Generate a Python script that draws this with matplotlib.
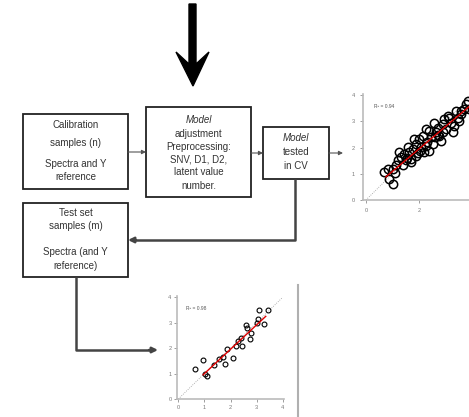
import matplotlib
matplotlib.use("Agg")
import matplotlib.pyplot as plt
from matplotlib.patches import Rectangle, Polygon

plt.rcParams["font.family"] = ["Liberation Sans Narrow", "Liberation Sans", "DejaVu Sans"]

W, H = 469, 417

# calibration set: predicted vs reference
cal_x = [3.84, 3.71, 3.40, 3.46, 3.08, 2.96, 3.21, 3.33, 2.89, 2.70, 2.64, 2.39, 2.26,
         2.14, 2.01, 2.45, 2.52, 2.26, 2.08, 1.89, 1.76, 1.64, 1.57, 1.45, 1.32, 1.26,
         1.20, 1.51, 1.70, 1.13, 1.01, 0.82, 0.69, 0.88, 1.01, 1.89, 2.77, 3.02, 3.52,
         3.27, 2.83, 2.20, 2.39, 1.38, 1.82, 2.58, 3.14, 3.58, 3.77, 3.90,
         1.95, 2.32, 2.62, 1.55, 1.10, 2.90, 3.60, 1.70, 2.05, 2.70]
cal_y = [3.77, 3.46, 3.40, 3.14, 3.21, 3.08, 2.96, 2.83, 2.89, 2.77, 2.58, 2.64, 2.70,
         2.45, 2.33, 2.39, 2.14, 2.08, 2.01, 2.14, 1.95, 1.82, 2.01, 1.76, 1.64, 1.82,
         1.51, 1.51, 1.45, 1.32, 1.20, 1.20, 1.07, 0.82, 0.63, 1.70, 2.45, 2.70, 3.02,
         2.58, 2.26, 1.82, 1.89, 1.32, 2.33, 2.96, 3.14, 3.27, 3.65, 3.46,
         1.78, 2.20, 2.40, 1.62, 1.05, 2.60, 3.40, 1.58, 1.88, 2.50]
cal_fit_x = [0.75, 3.95]
cal_fit_y = [0.88, 3.62]
cal_r2 = "R² = 0.94"

# test set: predicted vs reference
test_x = [0.65, 0.96, 1.04, 1.10, 1.35, 1.55, 1.70, 1.80, 1.85, 2.10, 2.20, 2.30,
          2.40, 2.45, 2.60, 2.65, 2.75, 2.80, 3.00, 3.07, 3.10, 3.30, 3.45]
test_y = [1.18, 1.53, 0.98, 0.90, 1.33, 1.57, 1.65, 1.37, 1.96, 1.60, 2.08, 2.30,
          2.40, 2.10, 2.90, 2.80, 2.35, 2.60, 2.98, 3.15, 3.50, 2.95, 3.50]
test_fit_x = [0.95, 3.35]
test_fit_y = [0.95, 3.25]
test_r2 = "R² = 0.98"

cal_lines = ["Calibration", "samples (n)", "Spectra and Y", "reference"]
cal_line_y = [125, 143, 164, 177]
model_lines = ["Model", "adjustment", "Preprocessing:", "SNV, D1, D2,", "latent value", "number."]
model_line_y = [120, 134, 147, 159, 172, 186]
cv_lines = ["Model", "tested", "in CV"]
cv_line_y = [138, 152, 166]
test_lines = ["Test set", "samples (m)", "Spectra (and Y", "reference)"]
test_line_y = [213, 226, 252, 266]

fig = plt.figure(figsize=(W / 100, H / 100), dpi=100)
ax = fig.add_axes([0, 0, 1, 1])
ax.set_xlim(0, W)
ax.set_ylim(H, 0)
ax.axis("off")


def box(x0, y0, x1, y1):
    ax.add_patch(Rectangle((x0, y0), x1 - x0, y1 - y0, facecolor="white",
                           edgecolor="#222222", linewidth=1.3))


def write(cx, lines, ys, italic=()):
    for i, (txt, y) in enumerate(zip(lines, ys)):
        ax.text(cx, y, txt, ha="center", va="center", fontsize=7, color="#333333",
                style="italic" if i in italic else "normal")


def arrow(p0, p1, lw=0.8, color="#555555", scale=6):
    ax.annotate("", xy=p1, xytext=p0,
                arrowprops=dict(arrowstyle="-|>", color=color, lw=lw,
                                mutation_scale=scale, shrinkA=0, shrinkB=0))


# big arrow on top
ax.add_patch(Polygon([(189, 4), (196, 4), (196, 64), (209, 52), (193, 86),
                      (176, 52), (189, 64)], closed=True, facecolor="black",
                     edgecolor="black"))

box(23, 114, 128, 189)
write(75.5, cal_lines, cal_line_y)
box(146, 107, 251, 197)
write(198.5, model_lines, model_line_y, italic=(0,))
box(263, 127, 329, 179)
write(296, cv_lines, cv_line_y, italic=(0,))
box(23, 203, 128, 277)
write(75.5, test_lines, test_line_y)

arrow((128, 152), (146, 152))
arrow((251, 153), (263, 153))
arrow((329, 153), (343, 153))

# return path from CV box to test set
ax.plot([295, 295, 135], [179, 240, 240], color="#444444", lw=1.8, solid_capstyle="butt")
arrow((136, 240), (128, 240), lw=1.8, color="#444444", scale=8)
# test set to prediction plot
ax.plot([76, 76, 150], [277, 350, 350], color="#444444", lw=1.8, solid_capstyle="butt")
arrow((149, 350), (158, 350), lw=1.8, color="#444444", scale=8)

ax.plot([298, 298], [285, 417], color="#b0b0b0", lw=1.5)


def scatter_panel(rect, xs, ys, fx, fy, r2, xlim, xticks, ms, mew, pad):
    sa = fig.add_axes(rect)
    sa.plot([0, 4], [0, 4], color="#999999", lw=0.6, ls=":")
    sa.plot(xs, ys, "o", mfc="none", mec="black", ms=ms, mew=mew)
    sa.plot(fx, fy, color="#e00000", lw=1.0)
    sa.text(0.3, 3.5, r2, fontsize=3.5, color="#555555")
    sa.set_xlim(*xlim)
    sa.set_ylim(0, 4.05)
    sa.set_xticks(xticks)
    sa.set_yticks([0, 1, 2, 3, 4])
    sa.tick_params(labelsize=4, colors="#777777", length=2, width=0.5, pad=pad)
    for side in ("top", "right"):
        sa.spines[side].set_visible(False)
    for side in ("left", "bottom"):
        sa.spines[side].set_color("#bbbbbb")
        sa.spines[side].set_linewidth(1.2)
    sa.patch.set_alpha(0)
    return sa


scatter_panel([363 / W, (H - 200) / H, 109 / W, 106 / H], cal_x, cal_y,
              cal_fit_x, cal_fit_y, cal_r2, (-0.11, 4.0), [0, 2], 6, 1.1, 4)
scatter_panel([177 / W, (H - 399) / H, 107 / W, 103 / H], test_x, test_y,
              test_fit_x, test_fit_y, test_r2, (-0.05, 4.05), [0, 1, 2, 3, 4], 3.5, 0.8, 2)

fig.savefig("out.png", dpi=100)
